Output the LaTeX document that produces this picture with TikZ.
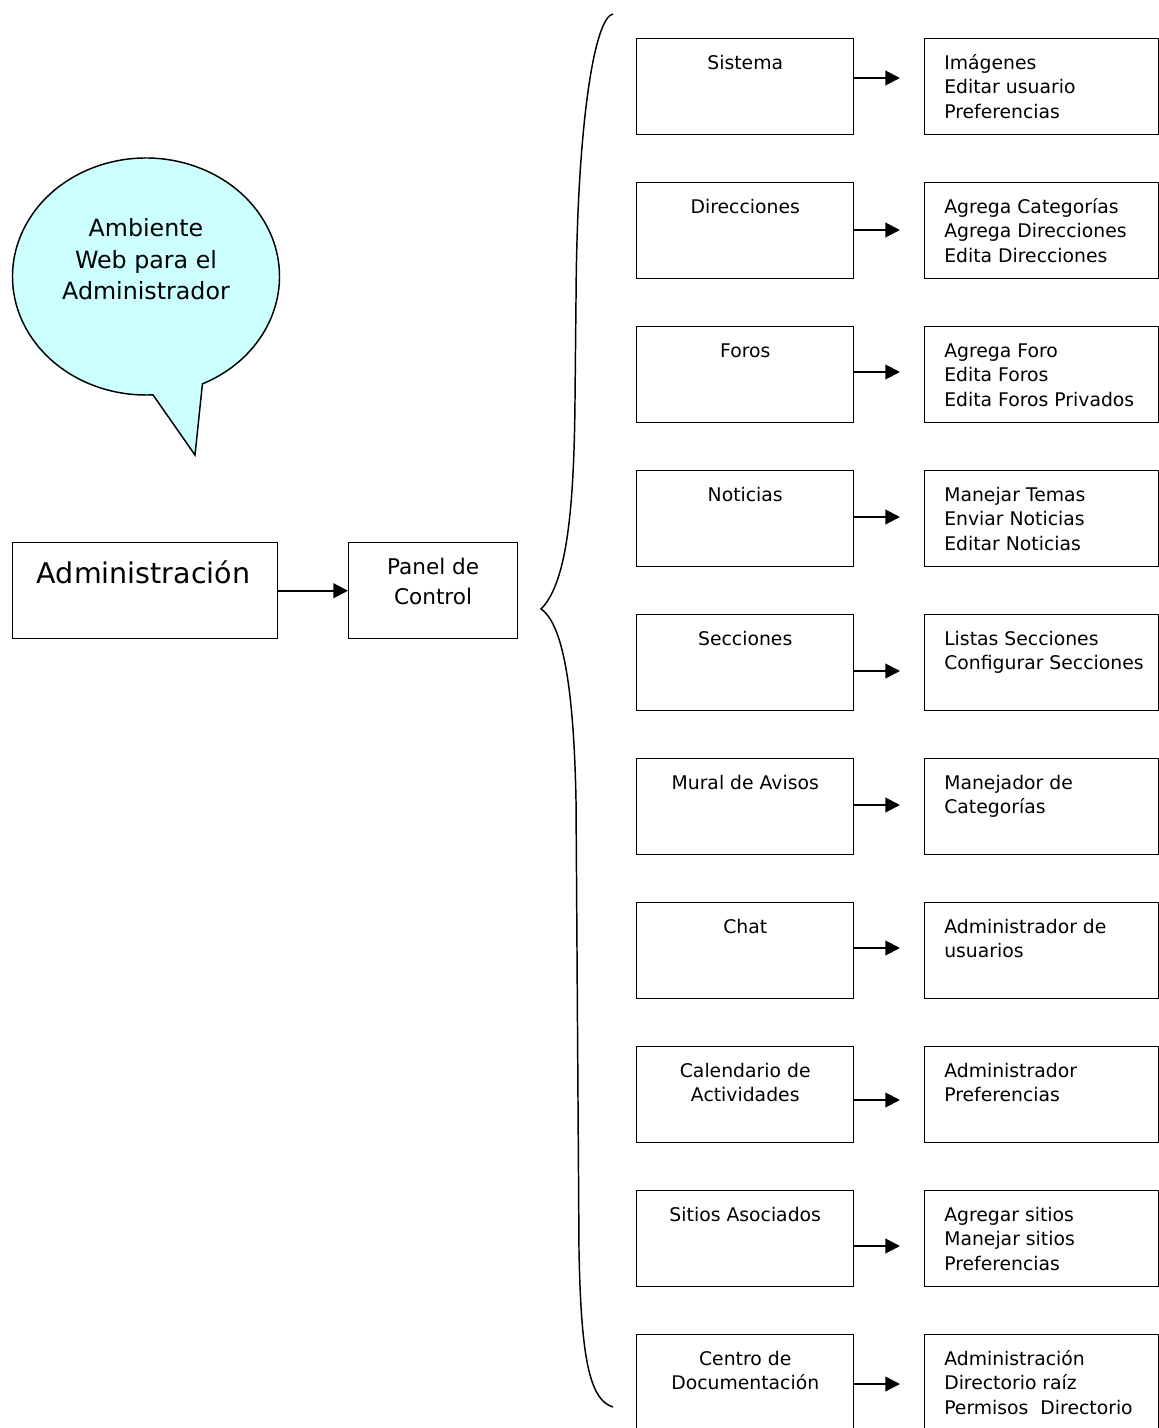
\documentclass[tikz,border=0pt]{standalone}
\usepackage{fontspec}
\setmainfont{DejaVu Sans}
\usetikzlibrary{arrows.meta}
\definecolor{celeste}{HTML}{CCFFFF}
\tikzset{
  bigbox/.style={draw, line width=1.1pt, minimum height=72pt, inner sep=0pt, anchor=north west},
  menubox/.style={draw, line width=1.1pt, minimum width=162.75pt, minimum height=72pt, inner sep=0pt, anchor=north west},
  optionbox/.style={draw, line width=1.1pt, minimum width=175.3pt, minimum height=72pt, inner sep=0pt, anchor=north west},
  menutext/.style={anchor=north, inner sep=0pt, align=center, font=\fontsize{14.1pt}{18.4pt}\selectfont},
  optiontext/.style={anchor=north west, inner sep=0pt, align=left, font=\fontsize{14.1pt}{18.4pt}\selectfont},
  flecha/.style={line width=1.5pt, -{Triangle[length=11pt, width=11pt]}},
  llave/.style={line width=1.1pt},
  globo/.style={draw, line width=1.1pt, fill=celeste}
}

\begin{document}
\begin{tikzpicture}[x=0.75pt, y=0.75pt]
  \useasboundingbox (0,0) rectangle (1159,-1428);
  \clip (0,0) rectangle (1159,-1428);

  % globo de dialogo
  \draw[globo] (146,-276.5) ++(-65:133.5 and 118.5)
    arc[start angle=-65, end angle=273, x radius=133.5, y radius=118.5]
    -- (195,-455) -- cycle;
  \node[anchor=north, align=center, font=\fontsize{17.8pt}{23.6pt}\selectfont] (globo-t) at (146,-210)
    {\strut Ambiente\\Web para el\\Administrador};

  % administracion y panel
  \node[bigbox, minimum width=198.4pt] (admin) at (12,-542) {};
  \node[anchor=base, inner sep=0pt, font=\fontsize{21.4pt}{25pt}\selectfont] (admin-t) at (143.5,-583) {Administración};
  \node[bigbox, minimum width=126.5pt] (panel) at (348,-542) {};
  \node[anchor=north, align=center, inner sep=0pt, font=\fontsize{16.2pt}{22.5pt}\selectfont] (panel-t)
    at ([yshift=-8.3pt]panel.north) {\strut Panel de\\Control};
  \draw[flecha] (admin) -- (panel);

  % llave
  \draw[llave] (613,-14) .. controls (595,-17) and (577,-120) .. (576,-300)
    -- (575,-400) .. controls (574,-520) and (565,-585) .. (541,-609)
    .. controls (565,-625) and (574,-700) .. (576,-800)
    -- (579,-1250) .. controls (581,-1360) and (590,-1400) .. (613,-1407);

  % Sistema
  \node[menubox] (sis) at (636,-38) {};
  \node[menutext] (sis-t) at ([yshift=-10.2pt]sis.north) {\strut Sistema};
  \node[optionbox] (sis-op) at (924,-38) {};
  \node[optiontext] (sis-opt) at ([xshift=15pt,yshift=-10.2pt]sis-op.north west) {\strut Imágenes\\Editar usuario\\Preferencias};
  \coordinate (sis-a) at (900,-78);
  \draw[flecha] (sis.east |- sis-a) -- (sis-a);

  % Direcciones
  \node[menubox] (dir) at (636,-182) {};
  \node[menutext] (dir-t) at ([yshift=-10.2pt]dir.north) {\strut Direcciones};
  \node[optionbox] (dir-op) at (924,-182) {};
  \node[optiontext] (dir-opt) at ([xshift=15pt,yshift=-10.2pt]dir-op.north west) {\strut Agrega Categorías\\Agrega Direcciones\\Edita Direcciones};
  \coordinate (dir-a) at (900,-230);
  \draw[flecha] (dir.east |- dir-a) -- (dir-a);

  % Foros
  \node[menubox] (foros) at (636,-326) {};
  \node[menutext] (foros-t) at ([yshift=-10.2pt]foros.north) {\strut Foros};
  \node[optionbox] (foros-op) at (924,-326) {};
  \node[optiontext] (foros-opt) at ([xshift=15pt,yshift=-10.2pt]foros-op.north west) {\strut Agrega Foro\\Edita Foros\\Edita Foros Privados};
  \coordinate (foros-a) at (900,-372);
  \draw[flecha] (foros.east |- foros-a) -- (foros-a);

  % Noticias
  \node[menubox] (noti) at (636,-470) {};
  \node[menutext] (noti-t) at ([yshift=-10.2pt]noti.north) {\strut Noticias};
  \node[optionbox] (noti-op) at (924,-470) {};
  \node[optiontext] (noti-opt) at ([xshift=15pt,yshift=-10.2pt]noti-op.north west) {\strut Manejar Temas\\Enviar Noticias\\Editar Noticias};
  \coordinate (noti-a) at (900,-517);
  \draw[flecha] (noti.east |- noti-a) -- (noti-a);

  % Secciones
  \node[menubox] (secc) at (636,-614) {};
  \node[menutext] (secc-t) at ([yshift=-10.2pt]secc.north) {\strut Secciones};
  \node[optionbox] (secc-op) at (924,-614) {};
  \node[optiontext] (secc-opt) at ([xshift=15pt,yshift=-10.2pt]secc-op.north west) {\strut Listas Secciones\\Configurar Secciones};
  \coordinate (secc-a) at (900,-671);
  \draw[flecha] (secc.east |- secc-a) -- (secc-a);

  % Mural de Avisos
  \node[menubox] (mural) at (636,-758) {};
  \node[menutext] (mural-t) at ([yshift=-10.2pt]mural.north) {\strut Mural de Avisos};
  \node[optionbox] (mural-op) at (924,-758) {};
  \node[optiontext] (mural-opt) at ([xshift=15pt,yshift=-10.2pt]mural-op.north west) {\strut Manejador de\\Categorías};
  \coordinate (mural-a) at (900,-805);
  \draw[flecha] (mural.east |- mural-a) -- (mural-a);

  % Chat
  \node[menubox] (chat) at (636,-902) {};
  \node[menutext] (chat-t) at ([yshift=-10.2pt]chat.north) {\strut Chat};
  \node[optionbox] (chat-op) at (924,-902) {};
  \node[optiontext] (chat-opt) at ([xshift=15pt,yshift=-10.2pt]chat-op.north west) {\strut Administrador de\\usuarios};
  \coordinate (chat-a) at (900,-948);
  \draw[flecha] (chat.east |- chat-a) -- (chat-a);

  % Calendario de Actividades
  \node[menubox] (cal) at (636,-1046) {};
  \node[menutext] (cal-t) at ([yshift=-10.2pt]cal.north) {\strut Calendario de\\Actividades};
  \node[optionbox] (cal-op) at (924,-1046) {};
  \node[optiontext] (cal-opt) at ([xshift=15pt,yshift=-10.2pt]cal-op.north west) {\strut Administrador\\Preferencias};
  \coordinate (cal-a) at (900,-1100);
  \draw[flecha] (cal.east |- cal-a) -- (cal-a);

  % Sitios Asociados
  \node[menubox] (sitios) at (636,-1190) {};
  \node[menutext] (sitios-t) at ([yshift=-10.2pt]sitios.north) {\strut Sitios Asociados};
  \node[optionbox] (sitios-op) at (924,-1190) {};
  \node[optiontext] (sitios-opt) at ([xshift=15pt,yshift=-10.2pt]sitios-op.north west) {\strut Agregar sitios\\Manejar sitios\\Preferencias};
  \coordinate (sitios-a) at (900,-1246);
  \draw[flecha] (sitios.east |- sitios-a) -- (sitios-a);

  % Centro de Documentacion
  \node[menubox] (centro) at (636,-1334) {};
  \node[menutext] (centro-t) at ([yshift=-10.2pt]centro.north) {\strut Centro de\\Documentación};
  \node[optionbox] (centro-op) at (924,-1334) {};
  \node[optiontext] (centro-opt) at ([xshift=15pt,yshift=-10.2pt]centro-op.north west) {\strut Administración\\Directorio raíz\\Permisos\ \ Directorio};
  \coordinate (centro-a) at (900,-1384);
  \draw[flecha] (centro.east |- centro-a) -- (centro-a);
\end{tikzpicture}
\end{document}
